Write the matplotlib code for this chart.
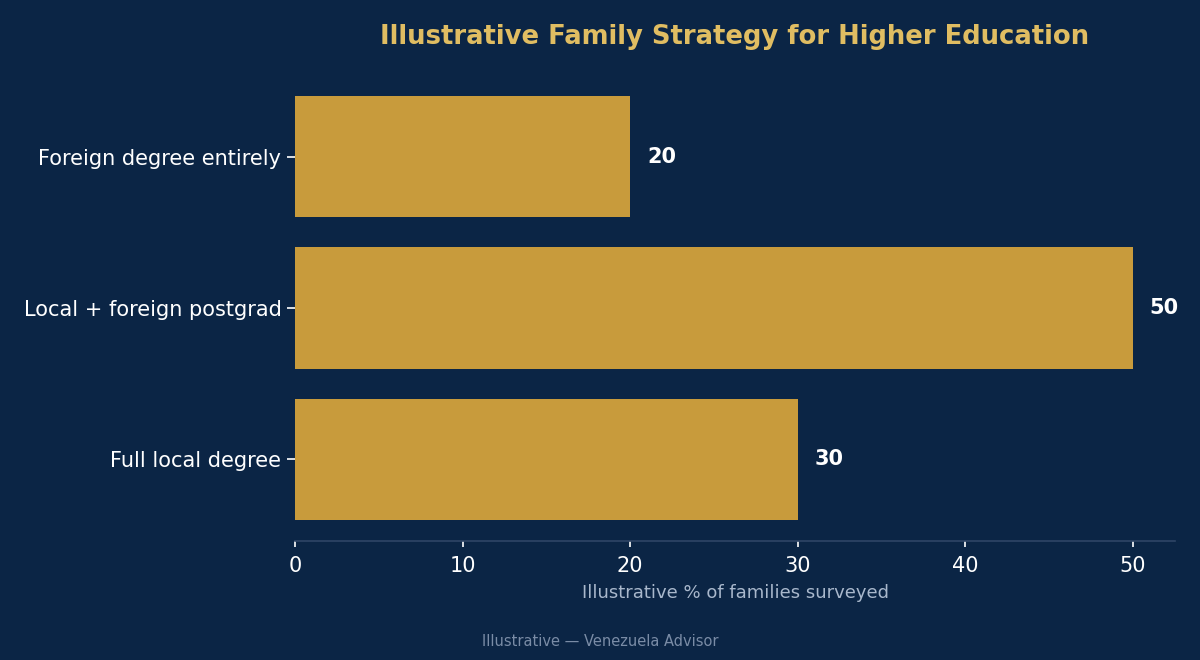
import matplotlib
matplotlib.use("Agg")
import matplotlib.pyplot as plt

categories = ["Full local degree", "Local + foreign postgrad", "Foreign degree entirely"]
values = [30, 50, 20]

BG = "#0b2545"
BAR = "#c89b3c"
TITLE = "#e0bd62"

fig = plt.figure(figsize=(12, 6.6), dpi=100, facecolor=BG)
ax = fig.add_axes([295/1200, 1-541/660, 880/1200, (541-75)/660])
ax.set_facecolor(BG)

bars = ax.barh(categories, values, height=0.8, color=BAR)
for b, v in zip(bars, values):
    ax.text(v + 1.0, b.get_y() + b.get_height()/2, f"{v}", va="center", ha="left",
            color="white", fontsize=15, fontweight="bold")

ax.set_xlim(0, 52.5)
for s in ["top", "right", "left"]:
    ax.spines[s].set_visible(False)
ax.spines["bottom"].set_color("#2e4566")
ax.spines["bottom"].set_linewidth(1.2)
ax.tick_params(axis="both", colors="white", labelsize=15)
ax.tick_params(axis="x", length=4, width=1.2, labelsize=15, pad=7)
ax.tick_params(axis="y", length=6, width=1.2, pad=3.8)
ax.set_xlabel("Illustrative % of families surveyed", color="#a9b8cc", fontsize=13, labelpad=5.8)
ax.set_title("Illustrative Family Strategy for Higher Education", color=TITLE,
             fontsize=18.6, fontweight="bold", pad=22)

fig.text(0.5, 1-642/660, "Illustrative — Venezuela Advisor", ha="center", va="center",
         color="#7a8ca6", fontsize=10.5)

fig.savefig("out.png", dpi=100, facecolor=BG)
